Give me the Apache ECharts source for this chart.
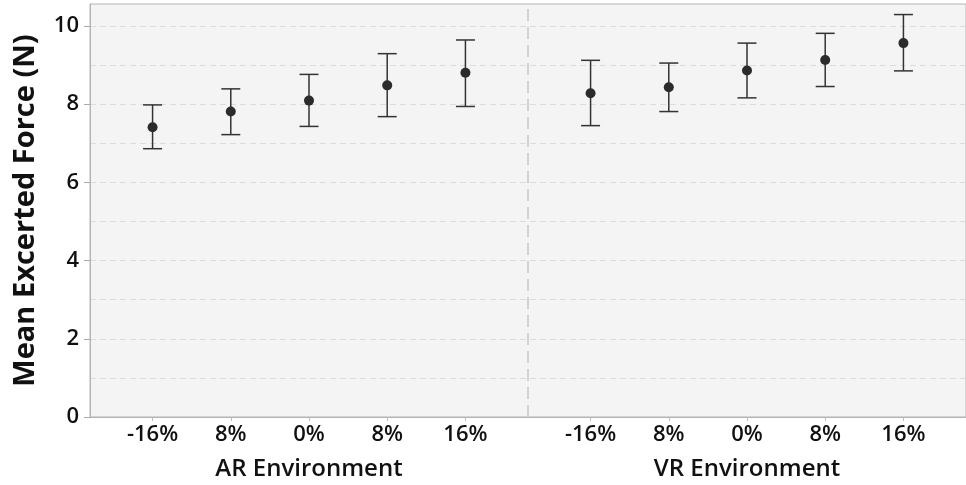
<!DOCTYPE html>
<html>
<head>
<meta charset="utf-8">
<script src="https://cdn.jsdelivr.net/npm/echarts@6/dist/echarts.min.js"></script>
<style>
  html, body { margin: 0; padding: 0; background: #fff; }
  #main { width: 966px; height: 485px; }
</style>
</head>
<body>
<div id="main"></div>
<script>
// 数据
const levels = ['-16%', '8%', '0%', '8%', '16%'];
const groups = ['AR Environment', 'VR Environment'];
const arMean = [7.41, 7.81, 8.09, 8.48, 8.80];
const arLow = [6.86, 7.22, 7.43, 7.68, 7.94];
const arHigh = [7.98, 8.39, 8.76, 9.29, 9.64];
const vrMean = [8.28, 8.43, 8.86, 9.13, 9.56];
const vrLow = [7.45, 7.81, 8.16, 8.45, 8.85];
const vrHigh = [9.12, 9.05, 9.56, 9.81, 10.29];
const yTicks = [0, 2, 4, 6, 8, 10];

// x 方向布局：每组 5 个位置，组间留空
const step = 5;
const groupStart = [4, 32];
const divider = 28;
const xMax = 56;

var pos = [];
var labelOf = {};
groupStart.forEach(function (s) {
  levels.forEach(function (lv, i) {
    pos.push(s + i * step);
    labelOf[s + i * step] = lv;
  });
});
var groupCenter = groupStart.map(function (s) { return s + 2 * step; });

var means = [], bars = [];
[[arMean, arLow, arHigh], [vrMean, vrLow, vrHigh]].forEach(function (g, gi) {
  for (var i = 0; i < g[0].length; i++) {
    var x = groupStart[gi] + i * step;
    means.push([x, g[0][i]]);
    bars.push([x, g[1][i], g[2][i]]);
  }
});

var FONT = 'Open Sans';
var chart = echarts.init(document.getElementById('main'));
chart.setOption({
  animation: false,
  textStyle: { fontFamily: FONT },
  grid: {
    left: 90, top: 4, bottom: 68, right: -8,
    show: true, backgroundColor: '#f4f4f4',
    borderColor: '#b4b4b4', borderWidth: 1
  },
  xAxis: [{
    type: 'value', min: 0, max: xMax,
    axisLine: { show: true, lineStyle: { color: '#b4b4b4', width: 1 } },
    axisTick: { show: true, customValues: pos, length: 4, lineStyle: { color: '#bbb' } },
    axisLabel: {
      customValues: pos, margin: 7, color: '#111',
      fontSize: 22, fontWeight: 600, fontFamily: FONT,
      formatter: function (v) { return labelOf[v] || ''; }
    },
    splitLine: { show: false }
  }, {
    type: 'value', min: 0, max: xMax, position: 'bottom',
    axisLine: { show: false }, axisTick: { show: false },
    axisLabel: {
      customValues: groupCenter, margin: 40, color: '#111',
      fontSize: 24, fontWeight: 600, fontFamily: FONT,
      formatter: function (v) { return groups[groupCenter.indexOf(v)] || ''; }
    },
    splitLine: { show: false }
  }],
  yAxis: {
    type: 'value', min: 0, max: 10.56, interval: 2,
    name: 'Mean Excerted Force (N)', nameLocation: 'middle', nameGap: 50,
    nameTextStyle: { fontSize: 29, fontWeight: 'bold', color: '#111', fontFamily: FONT },
    axisLine: { show: true, lineStyle: { color: '#b4b4b4', width: 1 } },
    axisTick: { show: true, customValues: yTicks, length: 6, lineStyle: { color: '#aaa' } },
    axisLabel: {
      customValues: yTicks, margin: 11, color: '#111',
      fontSize: 22, fontWeight: 600, fontFamily: FONT
    },
    splitLine: { show: true, lineStyle: { color: '#dcdcdc', type: [6, 4], width: 1 } },
    minorTick: { show: false, splitNumber: 2 },
    minorSplitLine: { show: true, lineStyle: { color: '#dcdcdc', type: [6, 4], width: 1 } }
  },
  series: [{
    type: 'custom',
    data: bars,
    renderItem: function (params, api) {
      var x = api.value(0);
      var lo = api.coord([x, api.value(1)]);
      var hi = api.coord([x, api.value(2)]);
      var w = 9.5;
      var style = { stroke: '#333', lineWidth: 1.5 };
      return {
        type: 'group',
        children: [
          { type: 'line', shape: { x1: hi[0], y1: hi[1], x2: lo[0], y2: lo[1] }, style: style },
          { type: 'line', shape: { x1: hi[0] - w, y1: hi[1], x2: hi[0] + w, y2: hi[1] }, style: style },
          { type: 'line', shape: { x1: lo[0] - w, y1: lo[1], x2: lo[0] + w, y2: lo[1] }, style: style }
        ]
      };
    },
    z: 3
  }, {
    type: 'scatter',
    data: means,
    symbolSize: 10,
    itemStyle: { color: '#2b2b2b', opacity: 1 },
    z: 4,
    markLine: {
      silent: true, symbol: 'none',
      label: { show: false },
      lineStyle: { color: '#d2d2d2', type: [12, 6], width: 2 },
      data: [{ xAxis: divider }]
    }
  }]
});
</script>
</body>
</html>
